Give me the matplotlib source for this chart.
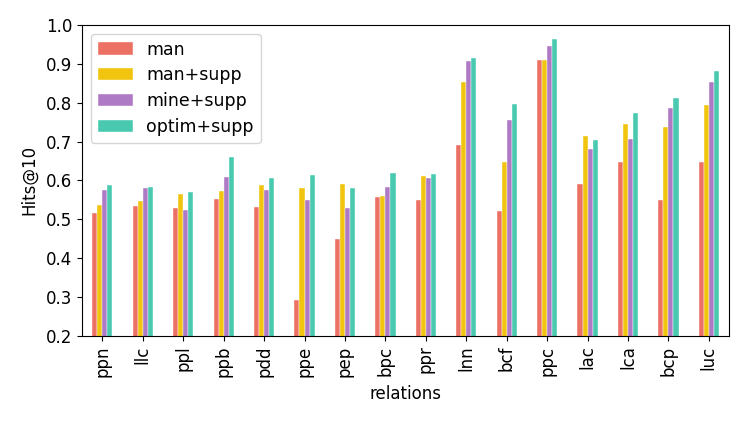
import matplotlib
matplotlib.use('Agg')
import matplotlib.pyplot as plt
import numpy as np

relations = ['ppn', 'llc', 'ppl', 'ppb', 'pdd', 'ppe', 'pep', 'bpc',
             'ppr', 'lnn', 'bcf', 'ppc', 'lac', 'lca', 'bcp', 'luc']

man = [0.517, 0.534, 0.529, 0.551, 0.531, 0.293, 0.450, 0.558,
       0.550, 0.691, 0.522, 0.910, 0.591, 0.647, 0.550, 0.647]
man_supp = [0.536, 0.546, 0.564, 0.574, 0.589, 0.580, 0.591, 0.559,
            0.612, 0.853, 0.648, 0.910, 0.715, 0.745, 0.738, 0.794]
mine_supp = [0.576, 0.581, 0.524, 0.610, 0.575, 0.550, 0.529, 0.583,
             0.606, 0.907, 0.755, 0.946, 0.681, 0.706, 0.787, 0.853]
optim_supp = [0.587, 0.583, 0.570, 0.660, 0.606, 0.614, 0.581, 0.618,
              0.617, 0.915, 0.797, 0.964, 0.704, 0.774, 0.812, 0.882]

series = [('man', man, '#ec7063'),
          ('man+supp', man_supp, '#f1c40f'),
          ('mine+supp', mine_supp, '#af7ac5'),
          ('optim+supp', optim_supp, '#48c9b0')]

fig = plt.figure(figsize=(7.47, 4.24), dpi=100)
ax = fig.add_axes([0.110, 0.208, 0.866, 0.733])

x = np.arange(len(relations))
width = 0.125
for i, (name, vals, color) in enumerate(series):
    ax.bar(x + (i - 1.5) * width, vals, width, color=color, label=name,
           edgecolor='white', linewidth=0.3)

ax.set_xlim(-0.5, len(relations) - 0.5)
ax.set_ylim(0.2, 1.0)
ax.set_xticks(x)
ax.set_xticklabels(relations, rotation=90, fontsize=12)
ax.set_yticks(np.arange(0.2, 1.01, 0.1))
ax.set_yticklabels([f'{v:.1f}' for v in np.arange(0.2, 1.01, 0.1)], fontsize=12)
ax.set_xlabel('relations', fontsize=12, labelpad=6)
ax.set_ylabel('Hits@10', fontsize=12, labelpad=6)
ax.legend(loc='upper left', fontsize=12.5, labelspacing=0.45)

fig.savefig('out.png', dpi=100)
